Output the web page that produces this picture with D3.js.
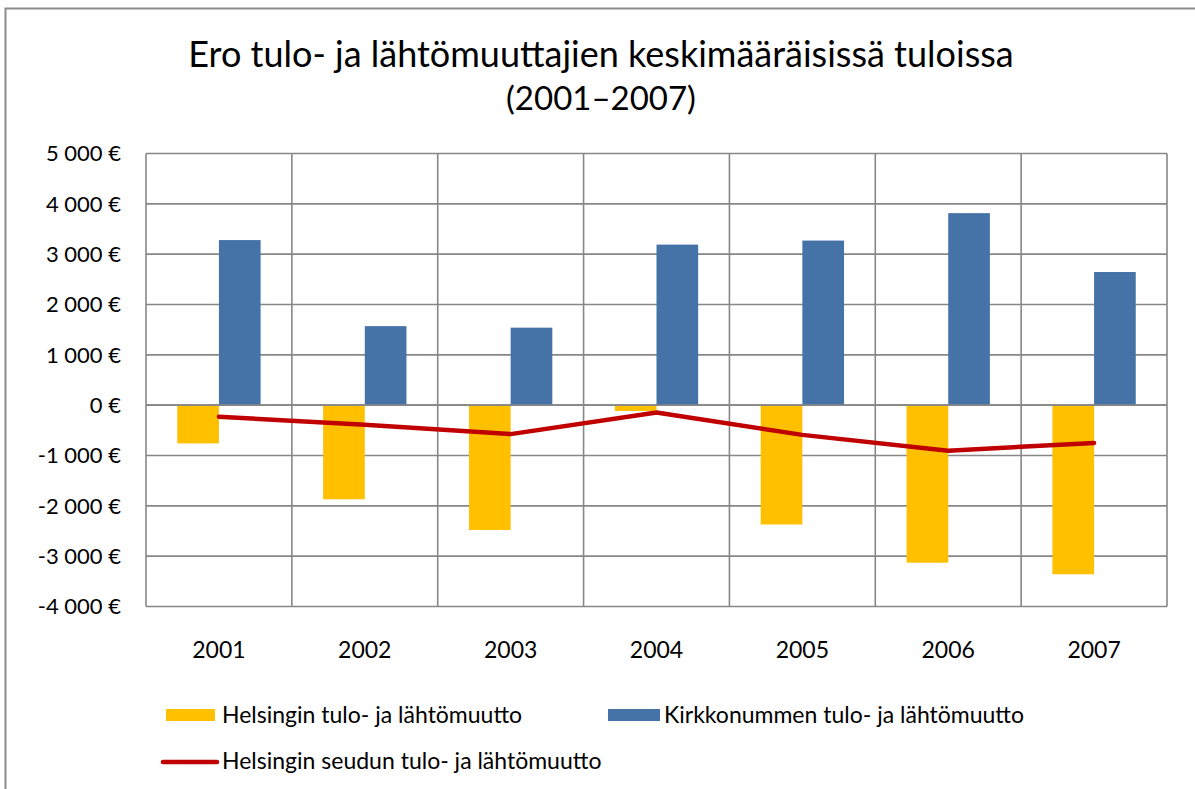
<!DOCTYPE html>
<html>
<head>
<meta charset="utf-8">
<script src="https://cdn.jsdelivr.net/npm/d3@7"></script>
<style>
  body { margin: 0; background: #fff; }
  svg text { font-family: Lato, "Open Sans", sans-serif; fill: #000; }
</style>
</head>
<body>
<svg id="chart" width="1195" height="789"></svg>
<script>
var years = ["2001", "2002", "2003", "2004", "2005", "2006", "2007"]

// Helsingin tulo- ja lähtömuutto
var helsinki = [-760, -1870, -2480, -115, -2370, -3130, -3360]
// Kirkkonummen tulo- ja lähtömuutto
var kirkkonummi = [3280, 1570, 1540, 3190, 3270, 3815, 2645]
// Helsingin seudun tulo- ja lähtömuutto
var seutu = [-230, -390, -575, -145, -590, -905, -750]

var yTicks = [-4000, -3000, -2000, -1000, 0, 1000, 2000, 3000, 4000, 5000]

var seriesNames = ["Helsingin tulo- ja lähtömuutto", "Kirkkonummen tulo- ja lähtömuutto", "Helsingin seudun tulo- ja lähtömuutto"]

var yellow = '#FFC000', blue = '#4573A7', red = '#C00000', grid = '#878787'

var svg = d3.select('#chart')

// outer chart frame
svg.append('rect')
  .attr('x', 5.5).attr('y', 8.5)
  .attr('width', 1300).attr('height', 900)
  .style('fill', 'none').style('stroke', '#8c8c8c').style('stroke-width', 2)

var plotL = 146, plotR = 1167, plotT = 153.5, plotB = 606.5

var x = d3.scaleBand().domain(years).range([plotL, plotR])
var xInner = d3.scaleBand().domain([0, 1]).range([0, x.bandwidth()]).paddingOuter(0.75).paddingInner(0)
var y = d3.scaleLinear().domain([-4000, 5000]).range([plotB, plotT])

function fmt(v) {
  var s = Math.abs(v) >= 1000 ? Math.floor(Math.abs(v) / 1000) + ' ' + '000' : String(Math.abs(v))
  return (v < 0 ? '-' : '') + s + ' €'
}

// horizontal grid
svg.append('g').selectAll('line').data(yTicks).enter().append('line')
  .attr('x1', plotL).attr('x2', plotR)
  .attr('y1', function (d) { return y(d) }).attr('y2', function (d) { return y(d) })
  .style('stroke', grid).style('stroke-width', 1.6)

// vertical grid at category boundaries
var bounds = years.map(function (d) { return x(d) }).concat([plotR])
svg.append('g').selectAll('line').data(bounds).enter().append('line')
  .attr('x1', function (d) { return d }).attr('x2', function (d) { return d })
  .attr('y1', plotT).attr('y2', plotB)
  .style('stroke', grid).style('stroke-width', 1.6)

// y axis labels
svg.append('g').selectAll('text').data(yTicks).enter().append('text')
  .attr('x', 121).attr('y', function (d) { return y(d) })
  .attr('dy', '0.36em')
  .style('text-anchor', 'end').style('font-size', '22px')
  .text(fmt)

// x axis labels
svg.append('g').selectAll('text').data(years).enter().append('text')
  .attr('x', function (d) { return x(d) + x.bandwidth() / 2 }).attr('y', 658)
  .style('text-anchor', 'middle').style('font-size', '23px')
  .text(function (d) { return d })

// bars
svg.append('g').selectAll('rect').data(helsinki).enter().append('rect')
  .attr('x', function (d, i) { return x(years[i]) + xInner(0) })
  .attr('width', xInner.bandwidth())
  .attr('y', function (d) { return y(Math.max(0, d)) })
  .attr('height', function (d) { return Math.abs(y(d) - y(0)) })
  .style('fill', yellow)

svg.append('g').selectAll('rect').data(kirkkonummi).enter().append('rect')
  .attr('x', function (d, i) { return x(years[i]) + xInner(1) })
  .attr('width', xInner.bandwidth())
  .attr('y', function (d) { return y(Math.max(0, d)) })
  .attr('height', function (d) { return Math.abs(y(d) - y(0)) })
  .style('fill', blue)

// zero line above bars
svg.append('line')
  .attr('x1', plotL).attr('x2', plotR).attr('y1', y(0)).attr('y2', y(0))
  .style('stroke', grid).style('stroke-width', 1.6)

// line series
var line = d3.line()
  .x(function (d, i) { return x(years[i]) + x.bandwidth() / 2 })
  .y(function (d) { return y(d) })

svg.append('path').datum(seutu)
  .attr('d', line)
  .style('fill', 'none').style('stroke', red).style('stroke-width', 4.5)
  .style('stroke-linecap', 'round').style('stroke-linejoin', 'round')

// title
var title = svg.append('text')
  .style('text-anchor', 'middle').style('font-size', '36px')
title.append('tspan').attr('x', 601).attr('y', 67).text('Ero tulo- ja lähtömuuttajien keskimääräisissä tuloissa')
title.append('tspan').attr('x', 601).attr('y', 110).style('font-size', '33px').text('(2001–2007)')

// legend
var legend = svg.append('g').style('font-size', '23px')
legend.append('rect').attr('x', 166).attr('y', 709).attr('width', 49).attr('height', 12).style('fill', yellow)
legend.append('text').attr('x', 222).attr('y', 723).text(seriesNames[0])
legend.append('rect').attr('x', 608).attr('y', 709).attr('width', 52).attr('height', 12).style('fill', blue)
legend.append('text').attr('x', 664).attr('y', 723).text(seriesNames[1])
legend.append('line').attr('x1', 163).attr('x2', 217).attr('y1', 762).attr('y2', 762)
  .style('stroke', red).style('stroke-width', 4.5).style('stroke-linecap', 'round')
legend.append('text').attr('x', 222).attr('y', 769).text(seriesNames[2])
</script>
</body>
</html>
